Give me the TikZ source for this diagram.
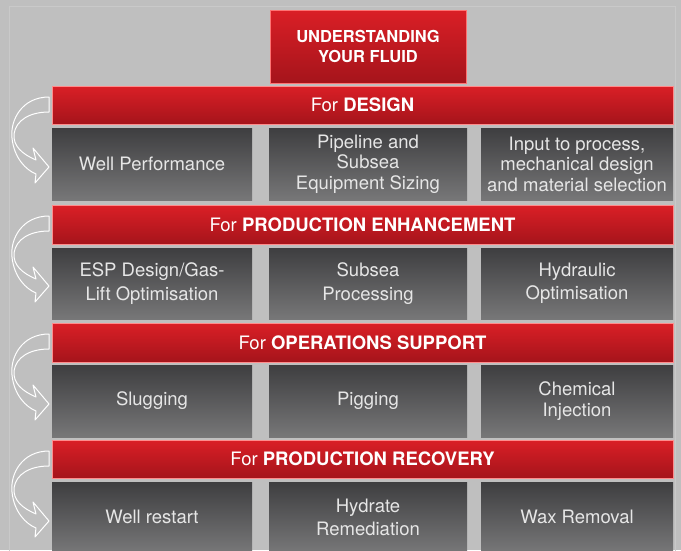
\documentclass[tikz,border=0pt]{standalone}
\usepackage{fontspec}
\setmainfont{TeX Gyre Heros}
\definecolor{bgrey}{HTML}{BFBFBF}
\definecolor{frameline}{HTML}{C9C9C9}
\definecolor{redtop}{HTML}{DA1F26}
\definecolor{redbot}{HTML}{A5141B}
\definecolor{greytop}{HTML}{3E3E40}
\definecolor{greybot}{HTML}{777778}
\definecolor{celltext}{HTML}{E6E6E6}
\tikzset{
  titlebox/.style={rectangle, inner sep=0pt, top color=redtop, bottom color=redbot,
    draw=red!55!white, line width=0.4pt, text=white, align=center,
    font=\fontsize{16.5}{22}\selectfont\bfseries},
  bandbox/.style={rectangle, inner sep=0pt, top color=redtop, bottom color=redbot,
    draw=red!45!white, line width=0.4pt, text=white, minimum width=621pt,
    font=\fontsize{18.5}{20}\selectfont},
  cellbox/.style={rectangle, inner sep=0pt, top color=greytop, bottom color=greybot,
    text=celltext, align=center, font=\fontsize{18.5}{20.5}\selectfont},
  turnline/.style={draw=white, line width=1pt, line join=round},
  turn/.pic={
    \draw[turnline] (49,11) .. controls (22,11) and (10,34) .. (12,52)
      .. controls (14,72) and (26,84) .. (36,88) -- (35,97) -- (49,81)
      -- (33,62) -- (36,74) .. controls (22,68) and (13,60) .. (14,48)
      .. controls (16,34) and (30,26) .. (49,26) -- cycle ;
  }
}
\begin{document}
\begin{tikzpicture}[x=1pt,y=-1pt]
\useasboundingbox (0,0) rectangle (681,550) ;
\fill[bgrey] (0,0) rectangle (681,550) ;
\draw[frameline, line width=0.8pt] (9,560) -- (9,6) -- (675,6) -- (675,560) ;

% title
\node[titlebox, minimum width=196pt, minimum height=73pt] (title) at (368,46.5)
  {\raisebox{-2pt}{UNDERSTANDING}\\YOUR FLUID} ;

% bands
\node[bandbox, minimum height=38pt] (design) at (362.5,105) {For \textbf{DESIGN}} ;
\node[bandbox, minimum height=39pt] (enhance) at (362.5,225) {For \textbf{PRODUCTION ENHANCEMENT}} ;
\node[bandbox, minimum height=39pt] (ops) at (362.5,342.5) {For \textbf{OPERATIONS SUPPORT}} ;
\node[bandbox, minimum height=38pt] (recovery) at (362.5,459) {For \textbf{PRODUCTION RECOVERY}} ;

% row 1
\node[cellbox, minimum width=200pt, minimum height=72pt] (design1) at (152,164) {Well Performance} ;
\node[cellbox, minimum width=198pt, minimum height=72pt] (design2) at (368,164) {Pipeline and\\Subsea\\Equipment Sizing} ;
\node[cellbox, minimum width=192pt, minimum height=72pt] (design3) at (577,164) {Input to process,\\mechanical design\\and material selection} ;

% row 2
\node[cellbox, minimum width=200pt, minimum height=71pt] (enhance1) at (152,283.5) {ESP Design/Gas-\\[4pt]Lift Optimisation} ;
\node[cellbox, minimum width=198pt, minimum height=71pt] (enhance2) at (368,283.5) {Subsea\\[3pt]Processing} ;
\node[cellbox, minimum width=192pt, minimum height=71pt] (enhance3) at (577,283.5) {Hydraulic\\[3pt]Optimisation} ;

% row 3
\node[cellbox, minimum width=200pt, minimum height=72pt] (ops1) at (152,401) {Slugging} ;
\node[cellbox, minimum width=198pt, minimum height=72pt] (ops2) at (368,401) {Pigging} ;
\node[cellbox, minimum width=192pt, minimum height=72pt] (ops3) at (577,401) {Chemical\\Injection} ;

% row 4
\node[cellbox, minimum width=200pt, minimum height=70pt] (recovery1) at (152,517) {Well restart} ;
\node[cellbox, minimum width=198pt, minimum height=70pt] (recovery2) at (368,517) {Hydrate\\[2.5pt]Remediation} ;
\node[cellbox, minimum width=192pt, minimum height=70pt] (recovery3) at (577,517) {Wax Removal} ;

% turning arrows
\pic at (0,86) {turn} ;
\pic at (0,205) {turn} ;
\pic at (0,323) {turn} ;
\pic at (0,440) {turn} ;
\end{tikzpicture}
\end{document}
